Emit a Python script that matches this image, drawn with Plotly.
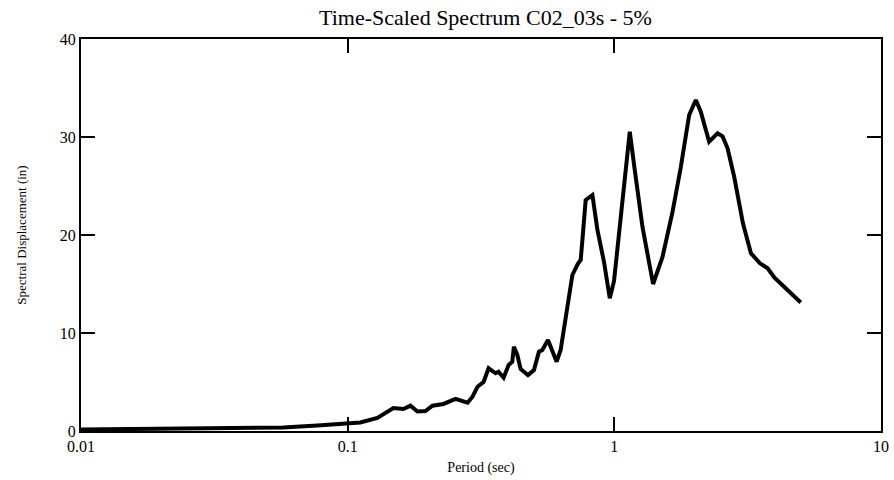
import plotly.graph_objects as go

period = [0.01, 0.0182, 0.0333, 0.0431, 0.0574, 0.0770, 0.100, 0.1116, 0.1292, 0.1485,
          0.1619, 0.1719, 0.1827, 0.1958, 0.208, 0.2288, 0.2538, 0.2815, 0.2939, 0.3069,
          0.3233, 0.3377, 0.3586, 0.368, 0.3843, 0.4013, 0.4143, 0.4201, 0.4327, 0.4452,
          0.4742, 0.4995, 0.5216, 0.537, 0.5637, 0.5857, 0.6077, 0.629, 0.6667, 0.6961,
          0.7288, 0.7479, 0.759, 0.7808, 0.8276, 0.8641, 0.9148, 0.9614, 0.9975, 1.0725,
          1.1425, 1.1929, 1.2752, 1.3976, 1.5157, 1.6527, 1.7757, 1.9081, 2.0214, 2.1105,
          2.2675, 2.4388, 2.5462, 2.6585, 2.8145, 3.036, 3.253, 3.516, 3.758, 3.979,
          4.557, 5.0]
sd = [0.15, 0.2, 0.25, 0.3, 0.36, 0.56, 0.79, 0.87, 1.33, 2.35,
      2.24, 2.58, 1.99, 2.04, 2.58, 2.76, 3.27, 2.89, 3.5, 4.52,
      5.0, 6.4, 5.89, 6.05, 5.44, 6.73, 7.07, 8.6, 7.76, 6.33,
      5.71, 6.22, 8.09, 8.27, 9.29, 8.09, 7.07, 8.27, 12.86, 15.92,
      17.04, 17.45, 19.49, 23.57, 24.08, 20.51, 17.24, 13.54, 15.31, 23.06,
      30.54, 26.63, 20.82, 15.0, 17.76, 22.35, 26.94, 32.24, 33.78, 32.55,
      29.52, 30.38, 30.07, 28.85, 25.95, 21.19, 18.13, 17.11, 16.6, 15.66,
      14.21, 13.11]

x_ticks = [0.01, 0.1, 1, 10]
x_tick_labels = ["0.01", "0.1", "1", "10"]
y_ticks = [0, 10, 20, 30, 40]
y_tick_labels = ["0", "10", "20", "30", "40"]

serif = "Liberation Serif"

fig = go.Figure(go.Scatter(x=period, y=sd, mode="lines",
                           line=dict(color="black", width=4), showlegend=False))

fig.update_layout(
    width=894, height=480,
    margin=dict(l=81, r=13, t=39, b=49, autoexpand=False),
    paper_bgcolor="white", plot_bgcolor="white",
    font=dict(family=serif, color="black"),
    title=dict(text="Time-Scaled Spectrum C02_03s - 5%", x=0.543, xanchor="center",
               y=0.965, yanchor="middle", yref="container",
               font=dict(family=serif, size=22, color="black")),
)
fig.update_xaxes(type="log", range=[-2, 1], tickvals=x_ticks, ticktext=x_tick_labels,
                 ticks="inside", ticklen=14, tickwidth=2, tickcolor="black",
                 showline=True, linecolor="black", linewidth=2, mirror="ticks",
                 showgrid=False, zeroline=False, automargin=False,
                 tickfont=dict(family=serif, size=16, color="black"),
                 title=dict(text="Period (sec)", font=dict(family=serif, size=14, color="black"),
                            standoff=8))
fig.update_yaxes(range=[0, 40], tickvals=y_ticks, ticktext=y_tick_labels,
                 ticks="inside", ticklen=14, tickwidth=2, tickcolor="black",
                 showline=True, linecolor="black", linewidth=2, mirror="ticks",
                 showgrid=False, zeroline=False, automargin=False,
                 tickfont=dict(family=serif, size=16, color="black"),
                 title=dict(text="Spectral Displacement (in)",
                            font=dict(family=serif, size=13, color="black"), standoff=30))

fig.write_html("out.html")
